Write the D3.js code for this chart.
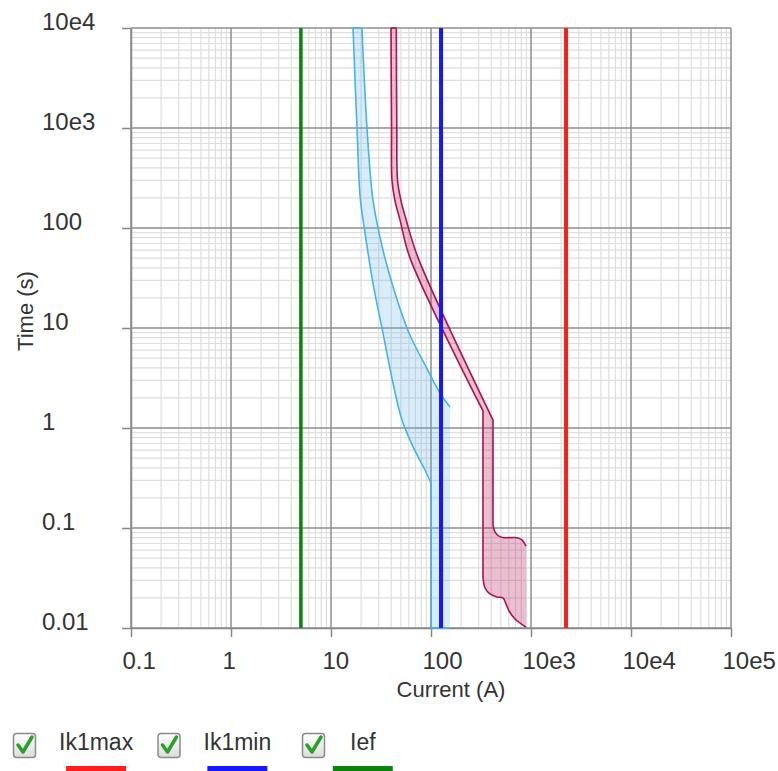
<!DOCTYPE html>
<html>
<head>
<meta charset="utf-8">
<script src="https://cdn.jsdelivr.net/npm/d3@7/dist/d3.min.js"></script>
<style>
body { margin: 0; background: #fff; }
text { font-family: "Liberation Sans", Arial, sans-serif; fill: #333; }
</style>
</head>
<body>
<script>
// tick labels
var xTickValues = [0.1, 1, 10, 100, 1000, 10000, 100000]
var xTickLabels = ['0.1', '1', '10', '100', '10e3', '10e4', '10e5']
var yTickValues = [0.01, 0.1, 1, 10, 100, 1000, 10000]
var yTickLabels = ['0.01', '0.1', '1', '10', '100', '10e3', '10e4']

// fuse band, [current A, time s]; min curve drops vertically to the bottom after its last point
var fuseMin = [[16.6,10000],[18.2,1000],[19.6,200],[21.9,89],[26.3,28],[33.1,8.9],[41.7,2.8],[51.3,1.2],[66,0.65],[87,0.38],[100,0.28]]
var fuseMax = [[20.4,10000],[22.9,1000],[26.3,191],[33.1,60],[42.7,24],[60.3,8.9],[89,4.1],[123,2.24],[155,1.62]]

// breaker band (thermal part, then magnetic part)
var breakerMinUpper = [[39.8,10000],[40.3,1000],[40.7,300],[43.5,190],[49,120],[61.7,50],[331,1.48]]
var breakerMinLower = [[331,0.0324],[347,0.0251],[389,0.0219],[457,0.0204],[525,0.020],[562,0.0174],[603,0.0148],[692,0.0123],[891,0.0102]]
var breakerMaxUpper = [[45,10000],[45.5,1000],[46.3,300],[50,190],[56.5,120],[74.5,50],[417,1.2]]
var breakerMaxLower = [[417,0.107],[437,0.091],[479,0.083],[537,0.08],[724,0.08],[813,0.076],[891,0.066]]

// vertical limit lines
var limitNames = ['Ik1max', 'Ik1min', 'Ief']
var limitValues = [2240, 126, 5]
var limitColors = ['#ff1c1c', '#1616ff', '#0b820b']

var width = 778, height = 771
var pLeft = 131, pRight = 731, pTop = 28, pBottom = 628

var svg = d3.select('body').append('svg').attr('width', width).attr('height', height)

var x = d3.scaleLog().domain([0.1, 1e5]).range([pLeft, pRight])
var y = d3.scaleLog().domain([0.01, 1e4]).range([pBottom, pTop])

// grid
var gx = x.ticks(), gy = y.ticks()
var isMajor = v => Math.abs(Math.log10(v) - Math.round(Math.log10(v))) < 1e-6
var grid = svg.append('g')
grid.selectAll('.vx').data(gx.filter(v => !isMajor(v))).enter().append('line')
    .attr('x1', d => x(d)).attr('x2', d => x(d)).attr('y1', pTop).attr('y2', pBottom)
    .attr('stroke', '#dedede').attr('stroke-width', 1.2)
grid.selectAll('.hy').data(gy.filter(v => !isMajor(v))).enter().append('line')
    .attr('y1', d => y(d)).attr('y2', d => y(d)).attr('x1', pLeft).attr('x2', pRight)
    .attr('stroke', '#dedede').attr('stroke-width', 1.2)
grid.selectAll('.mx').data(xTickValues).enter().append('line')
    .attr('x1', d => x(d)).attr('x2', d => x(d)).attr('y1', pTop).attr('y2', pBottom)
    .attr('stroke', '#8e8e8e').attr('stroke-width', 1.5)
grid.selectAll('.my').data(yTickValues).enter().append('line')
    .attr('y1', d => y(d)).attr('y2', d => y(d)).attr('x1', pLeft).attr('x2', pRight)
    .attr('stroke', '#8e8e8e').attr('stroke-width', 1.5)

// axes
var xAxis = svg.append('g').attr('transform', 'translate(0,' + pBottom + ')')
    .call(d3.axisBottom(x).tickValues(xTickValues).tickFormat((d, i) => xTickLabels[i]).tickSize(9).tickSizeOuter(0))
xAxis.selectAll('text').attr('text-anchor', 'start').attr('x', -9).attr('y', 41).attr('dy', null)
var yAxis = svg.append('g').attr('transform', 'translate(' + pLeft + ',0)')
    .call(d3.axisLeft(y).tickValues(yTickValues).tickFormat((d, i) => yTickLabels[i]).tickSize(9).tickSizeOuter(0))
yAxis.selectAll('text').attr('text-anchor', 'start').attr('x', 42 - pLeft).attr('y', 1.5).attr('dy', null)
svg.selectAll('.domain, .tick line').attr('stroke', '#888').attr('stroke-width', 1.5)
svg.selectAll('.tick text').attr('font-size', 24).attr('font-family', null).style('fill', '#333')
xAxis.attr('font-family', null).attr('font-size', null)
yAxis.attr('font-family', null).attr('font-size', null)

svg.append('text').attr('x', 451).attr('y', 697).attr('text-anchor', 'middle')
   .attr('font-size', 22).text('Current (A)')
svg.append('text').attr('transform', 'translate(33,311) rotate(-90)').attr('text-anchor', 'middle')
   .attr('font-size', 22).text('Time (s)')

// curves
var smooth = d3.line().curve(d3.curveCatmullRom.alpha(0.5)).x(d => x(d[0])).y(d => y(d[1]))
var to = d => 'L' + x(d[0]) + ',' + y(d[1])
var cont = pts => 'L' + smooth(pts).slice(1)
var rev = a => a.slice().reverse()

var fuseLast = fuseMin[fuseMin.length - 1], fuseEnd = fuseMax[fuseMax.length - 1]
svg.append('path')
   .attr('d', smooth(fuseMin) + to([fuseLast[0], 0.01]) + to([fuseEnd[0], 0.01]) + cont(rev(fuseMax)) + 'Z')
   .attr('fill', 'rgba(90,180,230,0.24)').attr('stroke', 'none')
svg.append('path')
   .attr('d', smooth(fuseMin) + to([fuseLast[0], 0.01]) + to([fuseEnd[0], 0.01]))
   .attr('fill', 'none').attr('stroke', '#46b4e4').attr('stroke-width', 1.6)
svg.append('path').attr('d', smooth(fuseMax)).attr('fill', 'none').attr('stroke', '#46b4e4').attr('stroke-width', 1.6)
svg.append('path').attr('d', 'M' + x(fuseMin[0][0]) + ',' + y(fuseMin[0][1]) + to(fuseMax[0]))
   .attr('stroke', '#46b4e4').attr('stroke-width', 1.6)

var minLine = smooth(breakerMinUpper) + cont(breakerMinLower)
var maxLine = smooth(breakerMaxUpper) + cont(breakerMaxLower)
svg.append('path')
   .attr('d', minLine + to(breakerMaxLower[breakerMaxLower.length - 1]) + cont(rev(breakerMaxLower)) + cont(rev(breakerMaxUpper)) + 'Z')
   .attr('fill', 'rgba(190,40,100,0.3)').attr('stroke', 'none')
svg.append('path').attr('d', minLine).attr('fill', 'none').attr('stroke', '#aa1350').attr('stroke-width', 1.6)
svg.append('path').attr('d', maxLine).attr('fill', 'none').attr('stroke', '#aa1350').attr('stroke-width', 1.6)
svg.append('path').attr('d', 'M' + x(breakerMinUpper[0][0]) + ',' + y(breakerMinUpper[0][1]) + to(breakerMaxUpper[0]))
   .attr('stroke', '#aa1350').attr('stroke-width', 1.6)

// limit lines
svg.selectAll('.limit').data(limitValues).enter().append('line')
   .attr('x1', d => x(d)).attr('x2', d => x(d)).attr('y1', pTop).attr('y2', pBottom)
   .attr('stroke', (d, i) => limitColors[i]).attr('stroke-width', (d, i) => i == 2 ? 3.5 : 4)

// legend
var defs = svg.append('defs')
var grad = defs.append('linearGradient').attr('id', 'cb').attr('x1', 0).attr('x2', 0).attr('y1', 0).attr('y2', 1)
grad.append('stop').attr('offset', '0%').attr('stop-color', '#ffffff')
grad.append('stop').attr('offset', '100%').attr('stop-color', '#dcdcdc')

var items = svg.selectAll('.leg').data(limitNames).enter().append('g')
   .attr('transform', (d, i) => 'translate(' + (13 + i * 144.5) + ',733)')
items.append('rect').attr('x', 0.5).attr('y', 0.5).attr('width', 22).attr('height', 24).attr('rx', 3)
   .attr('fill', 'url(#cb)').attr('stroke', '#8a8a8a').attr('stroke-width', 1.5)
items.append('path').attr('d', 'M5,12 L10,19 L19,4')
   .attr('fill', 'none').attr('stroke', '#27a127').attr('stroke-width', 3.5)
   .attr('stroke-linecap', 'round').attr('stroke-linejoin', 'round')
items.append('text').attr('x', (d, i) => i == 2 ? 48 : 46).attr('y', 17).attr('font-size', 23).text(d => d)
items.each(function(d, i) {
    var g = d3.select(this)
    var t = g.select('text').node()
    var c = +t.getAttribute('x') + t.getComputedTextLength() / 2
    g.append('line').attr('x1', c - 30).attr('x2', c + 30).attr('y1', 36).attr('y2', 36)
     .attr('stroke', limitColors[i]).attr('stroke-width', 6)
})
</script>
</body>
</html>
